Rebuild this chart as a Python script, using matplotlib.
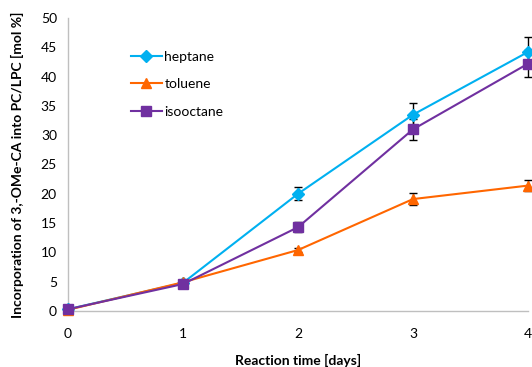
import matplotlib.pyplot as plt

# Data
days = [0, 1, 2, 3, 4]
heptane = [0.3, 4.8, 20.0, 33.5, 44.2]
heptane_err = [0.0, 0.2, 1.1, 2.0, 2.6]
toluene = [0.2, 4.9, 10.4, 19.1, 21.4]
toluene_err = [0.0, 0.2, 0.4, 1.0, 1.0]
isooctane = [0.3, 4.6, 14.3, 31.0, 42.2]
isooctane_err = [0.0, 0.2, 0.9, 1.8, 2.3]

plt.rcParams['font.family'] = ['Lato', 'DejaVu Sans']

fig = plt.figure(figsize=(5.32, 3.67), dpi=100)
ax = fig.add_axes([0.1278, 0.1526, 0.8647, 0.7984])

series = [
    ('heptane', heptane, heptane_err, '#00B0F0', 'D', 6),
    ('toluene', toluene, toluene_err, '#FF6600', '^', 7),
    ('isooctane', isooctane, isooctane_err, '#7030A0', 's', 6.5),
]
for name, vals, err, col, mk, ms in series:
    ax.errorbar(days, vals, yerr=err, color=col, marker=mk, markersize=ms,
                linewidth=1.5, ecolor='black', elinewidth=1, capsize=3,
                capthick=1, label=name, clip_on=False, zorder=3)

ax.set_xlim(0, 4)
ax.set_ylim(0, 50)
ax.set_xticks(days)
ax.set_yticks(range(0, 51, 5))
ax.tick_params(length=0, labelsize=10, colors='black', pad=8)
ax.tick_params(axis='x', pad=12)

for s in ['top', 'right']:
    ax.spines[s].set_visible(False)
for s in ['left', 'bottom']:
    ax.spines[s].set_color('#BFBFBF')
    ax.spines[s].set_linewidth(1)

ax.set_xlabel('Reaction time [days]', fontsize=10, fontweight='bold', labelpad=10)
ax.set_ylabel('Incorporation of 3,-OMe-CA into PC/LPC [mol %]', fontsize=10,
              fontweight='bold', labelpad=12)

# error bars hidden from the legend handles
handles, labels = ax.get_legend_handles_labels()
handles = [h[0] for h in handles]
ax.legend(handles, labels, loc='upper left', bbox_to_anchor=(0.11, 0.93),
          frameon=False, fontsize=10, handlelength=2.2, handletextpad=0.2,
          labelspacing=1.1)

fig.savefig('out.png', dpi=100)
